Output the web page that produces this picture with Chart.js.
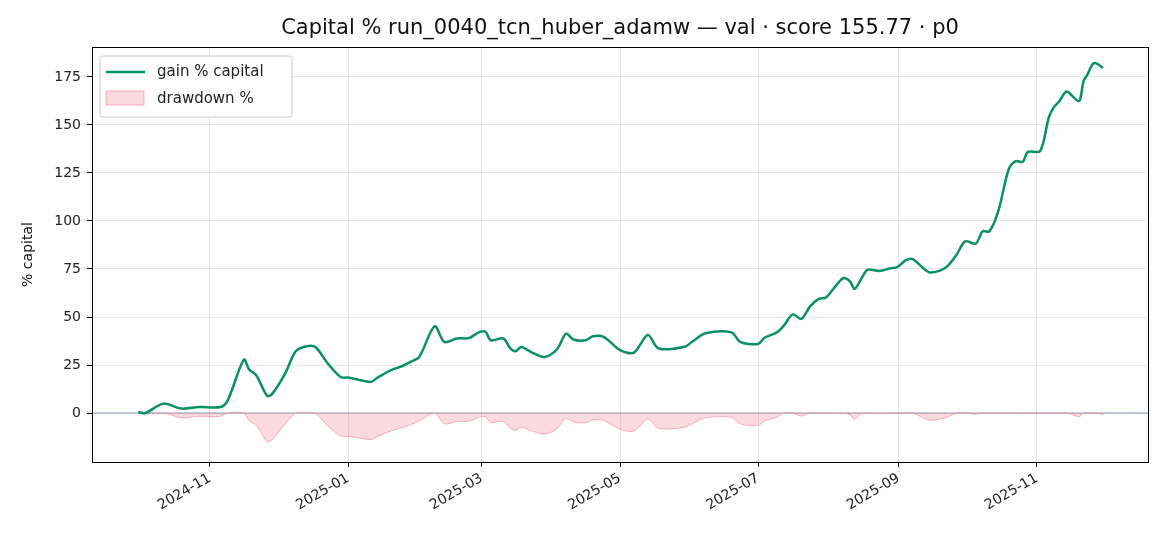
<!DOCTYPE html>
<html><head><meta charset="utf-8">
<script src="https://cdn.jsdelivr.net/npm/chart.js@4"></script>
<style>html,body{margin:0;padding:0;background:#fff}#w{width:1170px;height:546px}</style>
</head><body><div id="w"><canvas id="c"></canvas></div>
<script>
// days since 2024-10-01
const days = [-0.6,2.6,10.5,18.4,26.3,35.7,38.9,46,48.4,51.5,56.3,58.6,64.2,68.9,73.7,77.6,83.1,88.7,92.6,102,105,111,116,119.5,123.4,130.2,134.5,140,145.5,149.5,152.6,155,160.5,163.7,166,168.4,173.2,178.7,184.2,188.2,191.4,196.9,200,204.8,212,218.2,224.3,229,240.5,244.3,249.7,261.2,265,272.8,275.8,281.2,284.3,288.2,292,295.8,299.7,302.8,306.6,310.5,313.5,315.5,318.2,321.2,326.6,331.2,334.3,338.2,341.2,345.8,348.9,355.8,360.5,364.3,369,372,375,378.9,383.5,386.6,389.7,392,397.4,401.2,403.5,405.8,409,412,414,415,416.6,418.2,420.8,422.8,425.1];
const gain = [0.5,0,4.9,2.3,3.1,3.1,6.6,27.8,22.6,19.7,8.9,10.1,20.5,32.2,34.8,34.4,25.7,18.8,18.4,16.2,18.4,22.3,24.5,26.6,29.2,45.2,37,38.8,39.1,41.9,42.3,37.9,38.8,33.6,32.2,34.4,31.5,29.2,33.2,41.4,38.3,37.9,40,39.7,32.8,31.5,40.6,33.6,34.5,37.5,41.5,42,37.1,35.9,39.2,42,45.5,51.4,49,55.4,59.4,60.1,65.3,70.2,68.5,64.6,69.3,74.6,74,75.4,76,79.6,80.1,75.4,73.2,75.8,82.4,89.4,88.2,94.6,94.6,105,126.8,131.2,130.8,136,136.4,153.8,159.4,162.2,167.4,164.6,162.5,163,173,176.1,182,181.7,179.6];
const drawdown = [0,-0.5,0,-2.5,-1.7,-1.7,0,0,-4.1,-6.3,-14.8,-13.8,-5.7,0,0,-0.3,-6.8,-11.9,-12.2,-13.8,-12.2,-9.3,-7.6,-6.1,-4.2,0,-5.6,-4.4,-4.2,-2.3,-2,-5,-4.4,-8,-9,-7.4,-9.4,-11,-8.2,-2.6,-4.7,-5,-3.6,-3.8,-8.5,-9.4,-3.2,-8,-7.4,-5.3,-2.5,-2.2,-5.6,-6.5,-4.1,-2.2,0,0,-1.6,0,0,0,0,0,-1,-3.3,-0.5,0,-0.3,0,0,0,0,-2.6,-3.8,-2.4,0,0,-0.6,0,0,0,0,0,-0.2,0,0,0,0,0,0,-1,-1.8,-1.6,0,0,0,-0.2,-0.8];
const tickDays = [31,92,151,212,273,335,396];
const tickLabels = ['2024-11','2025-01','2025-03','2025-05','2025-07','2025-09','2025-11'];
const yTicks = [0,25,50,75,100,125,150,175];
const titleText = 'Capital % run_0040_tcn_huber_adamw — val · score 155.77 · p0';

const F = "'DejaVu Sans', sans-serif";
const zeroLine = {id:'zl', beforeDatasetsDraw(ch){const {ctx,chartArea:a,scales:{y}}=ch;const py=y.getPixelForValue(0);ctx.save();ctx.strokeStyle='#8a9ab0';ctx.lineWidth=1;ctx.beginPath();ctx.moveTo(a.left,py);ctx.lineTo(a.right,py);ctx.stroke();ctx.restore();}};
const frame = {id:'fr', afterDraw(ch){const {ctx,chartArea:a}=ch;ctx.save();ctx.strokeStyle='#000';ctx.lineWidth=1;ctx.strokeRect(a.left+0.5,a.top+0.5,a.width,a.height);
 ctx.fillStyle='#111';ctx.font='21px '+F;ctx.textAlign='center';ctx.textBaseline='middle';ctx.fillText(titleText,(a.left+a.right)/2,29);ctx.textAlign='left';
 const x=a.left+8,y=a.top+9;ctx.fillStyle='rgba(255,255,255,0.85)';ctx.strokeStyle='#ccc';ctx.beginPath();ctx.roundRect(x,y,192,61,3);ctx.fill();ctx.stroke();
 ctx.strokeStyle='#0b8f63';ctx.lineWidth=2.5;ctx.beginPath();ctx.moveTo(x+6,y+16);ctx.lineTo(x+45,y+16);ctx.stroke();
 ctx.fillStyle='rgba(240,130,155,0.3)';ctx.strokeStyle='rgba(240,130,155,0.6)';ctx.lineWidth=1;ctx.fillRect(x+6,y+35,38,14);ctx.strokeRect(x+6,y+35,38,14);
 ctx.fillStyle='#222';ctx.font='15px '+F;ctx.textBaseline='middle';ctx.fillText('gain % capital',x+57,y+16);ctx.fillText('drawdown %',x+57,y+43);
 ctx.restore();}};

new Chart(document.getElementById('c'),{
 type:'line',
 data:{datasets:[
  {label:'gain % capital',data:days.map((d,i)=>({x:d,y:gain[i]})),borderColor:'#0b8f63',borderWidth:2.5,pointRadius:0,tension:0.3,order:1},
  {label:'drawdown %',data:days.map((d,i)=>({x:d,y:drawdown[i]})),borderColor:'rgba(240,130,155,0.6)',backgroundColor:'rgba(240,130,155,0.3)',borderWidth:1,pointRadius:0,fill:'origin',tension:0.3,order:2}
 ]},
 plugins:[zeroLine,frame],
 options:{responsive:true,maintainAspectRatio:false,animation:false,
  layout:{padding:{left:16,right:22,top:47,bottom:0}},
  plugins:{legend:{display:false},tooltip:{enabled:false},title:{display:false}},
  scales:{
   x:{type:'linear',min:-21,max:445,
    afterBuildTicks(s){s.ticks=tickDays.map(v=>({value:v}));},
    afterFit(s){s.height=84;},
    ticks:{autoSkip:false,maxRotation:30,minRotation:30,color:'#222',font:{family:F,size:14},callback:(v)=>tickLabels[tickDays.indexOf(v)]},
    grid:{color:'rgba(0,0,0,0.09)',drawTicks:true,tickLength:5,tickColor:'#000'},border:{display:false}},
   y:{min:-25.5,max:190.6,
    afterBuildTicks(s){s.ticks=yTicks.map(v=>({value:v}));},
    afterFit(s){s.width=76;},
    title:{display:true,text:'% capital',color:'#111',font:{family:F,size:14}},
    ticks:{color:'#222',font:{family:F,size:14},padding:6},
    grid:{color:'rgba(0,0,0,0.09)',tickLength:5,tickColor:'#000'},border:{display:false}}
  }}
});
</script></body></html>
